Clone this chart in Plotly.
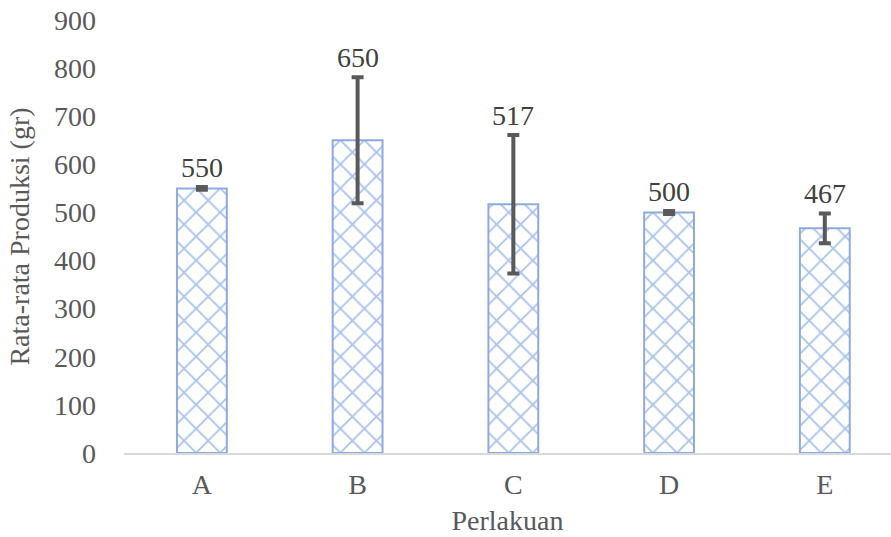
import plotly.graph_objects as go

categories = ["A", "B", "C", "D", "E"]
values = [550, 650, 517, 500, 467]
errors = [3, 131, 144, 3, 31]
labels = ["550", "650", "517", "500", "467"]

FONT = "Liberation Serif, Times New Roman, serif"
TXT = "#595959"
FS = 28

fig = go.Figure()
fig.add_trace(go.Bar(
    x=list(range(len(categories))), y=values,
    marker=dict(
        color="white",
        line=dict(color="#8FAADC", width=2),
        pattern=dict(shape="x", fgcolor="#4F86DC", bgcolor="white", size=17, solidity=0.2, fillmode="overlay"),
    ),
    error_y=dict(type="data", array=errors, visible=True, color="#595959", thickness=4, width=6),
    width=0.32,
))

for i, (v, e, t) in enumerate(zip(values, errors, labels)):
    fig.add_annotation(x=i, y=v + e, text=t, showarrow=False, yanchor="bottom", yshift=2,
                       font=dict(family=FONT, size=FS, color="#404040"))

fig.update_layout(
    width=891, height=537,
    margin=dict(l=124, r=0, t=20, b=84, autoexpand=False),
    plot_bgcolor="white", paper_bgcolor="white",
    showlegend=False,
    font=dict(family=FONT, size=FS, color=TXT),
    xaxis=dict(range=[-0.5, 4.425], tickmode="array", tickvals=list(range(len(categories))),
               ticktext=categories, automargin=False,
               showline=True, linecolor="#D9D9D9", linewidth=2, ticks="", showgrid=False,
               ticklabelstandoff=5,
               title=dict(text="Perlakuan", font=dict(size=FS, color=TXT), standoff=12),
               tickfont=dict(size=FS, color=TXT)),
    yaxis=dict(range=[0, 900], dtick=100, showgrid=False, zeroline=False, showline=False, ticks="",
               automargin=False, ticklabelstandoff=27, ticklabeloverflow="allow",
               title=dict(text="Rata-rata Produksi (gr)", font=dict(size=FS, color=TXT), standoff=16),
               tickfont=dict(size=FS, color=TXT)),
)

fig.write_html("out.html", config={"displayModeBar": False},
               post_script="document.body.style.margin='0';")
